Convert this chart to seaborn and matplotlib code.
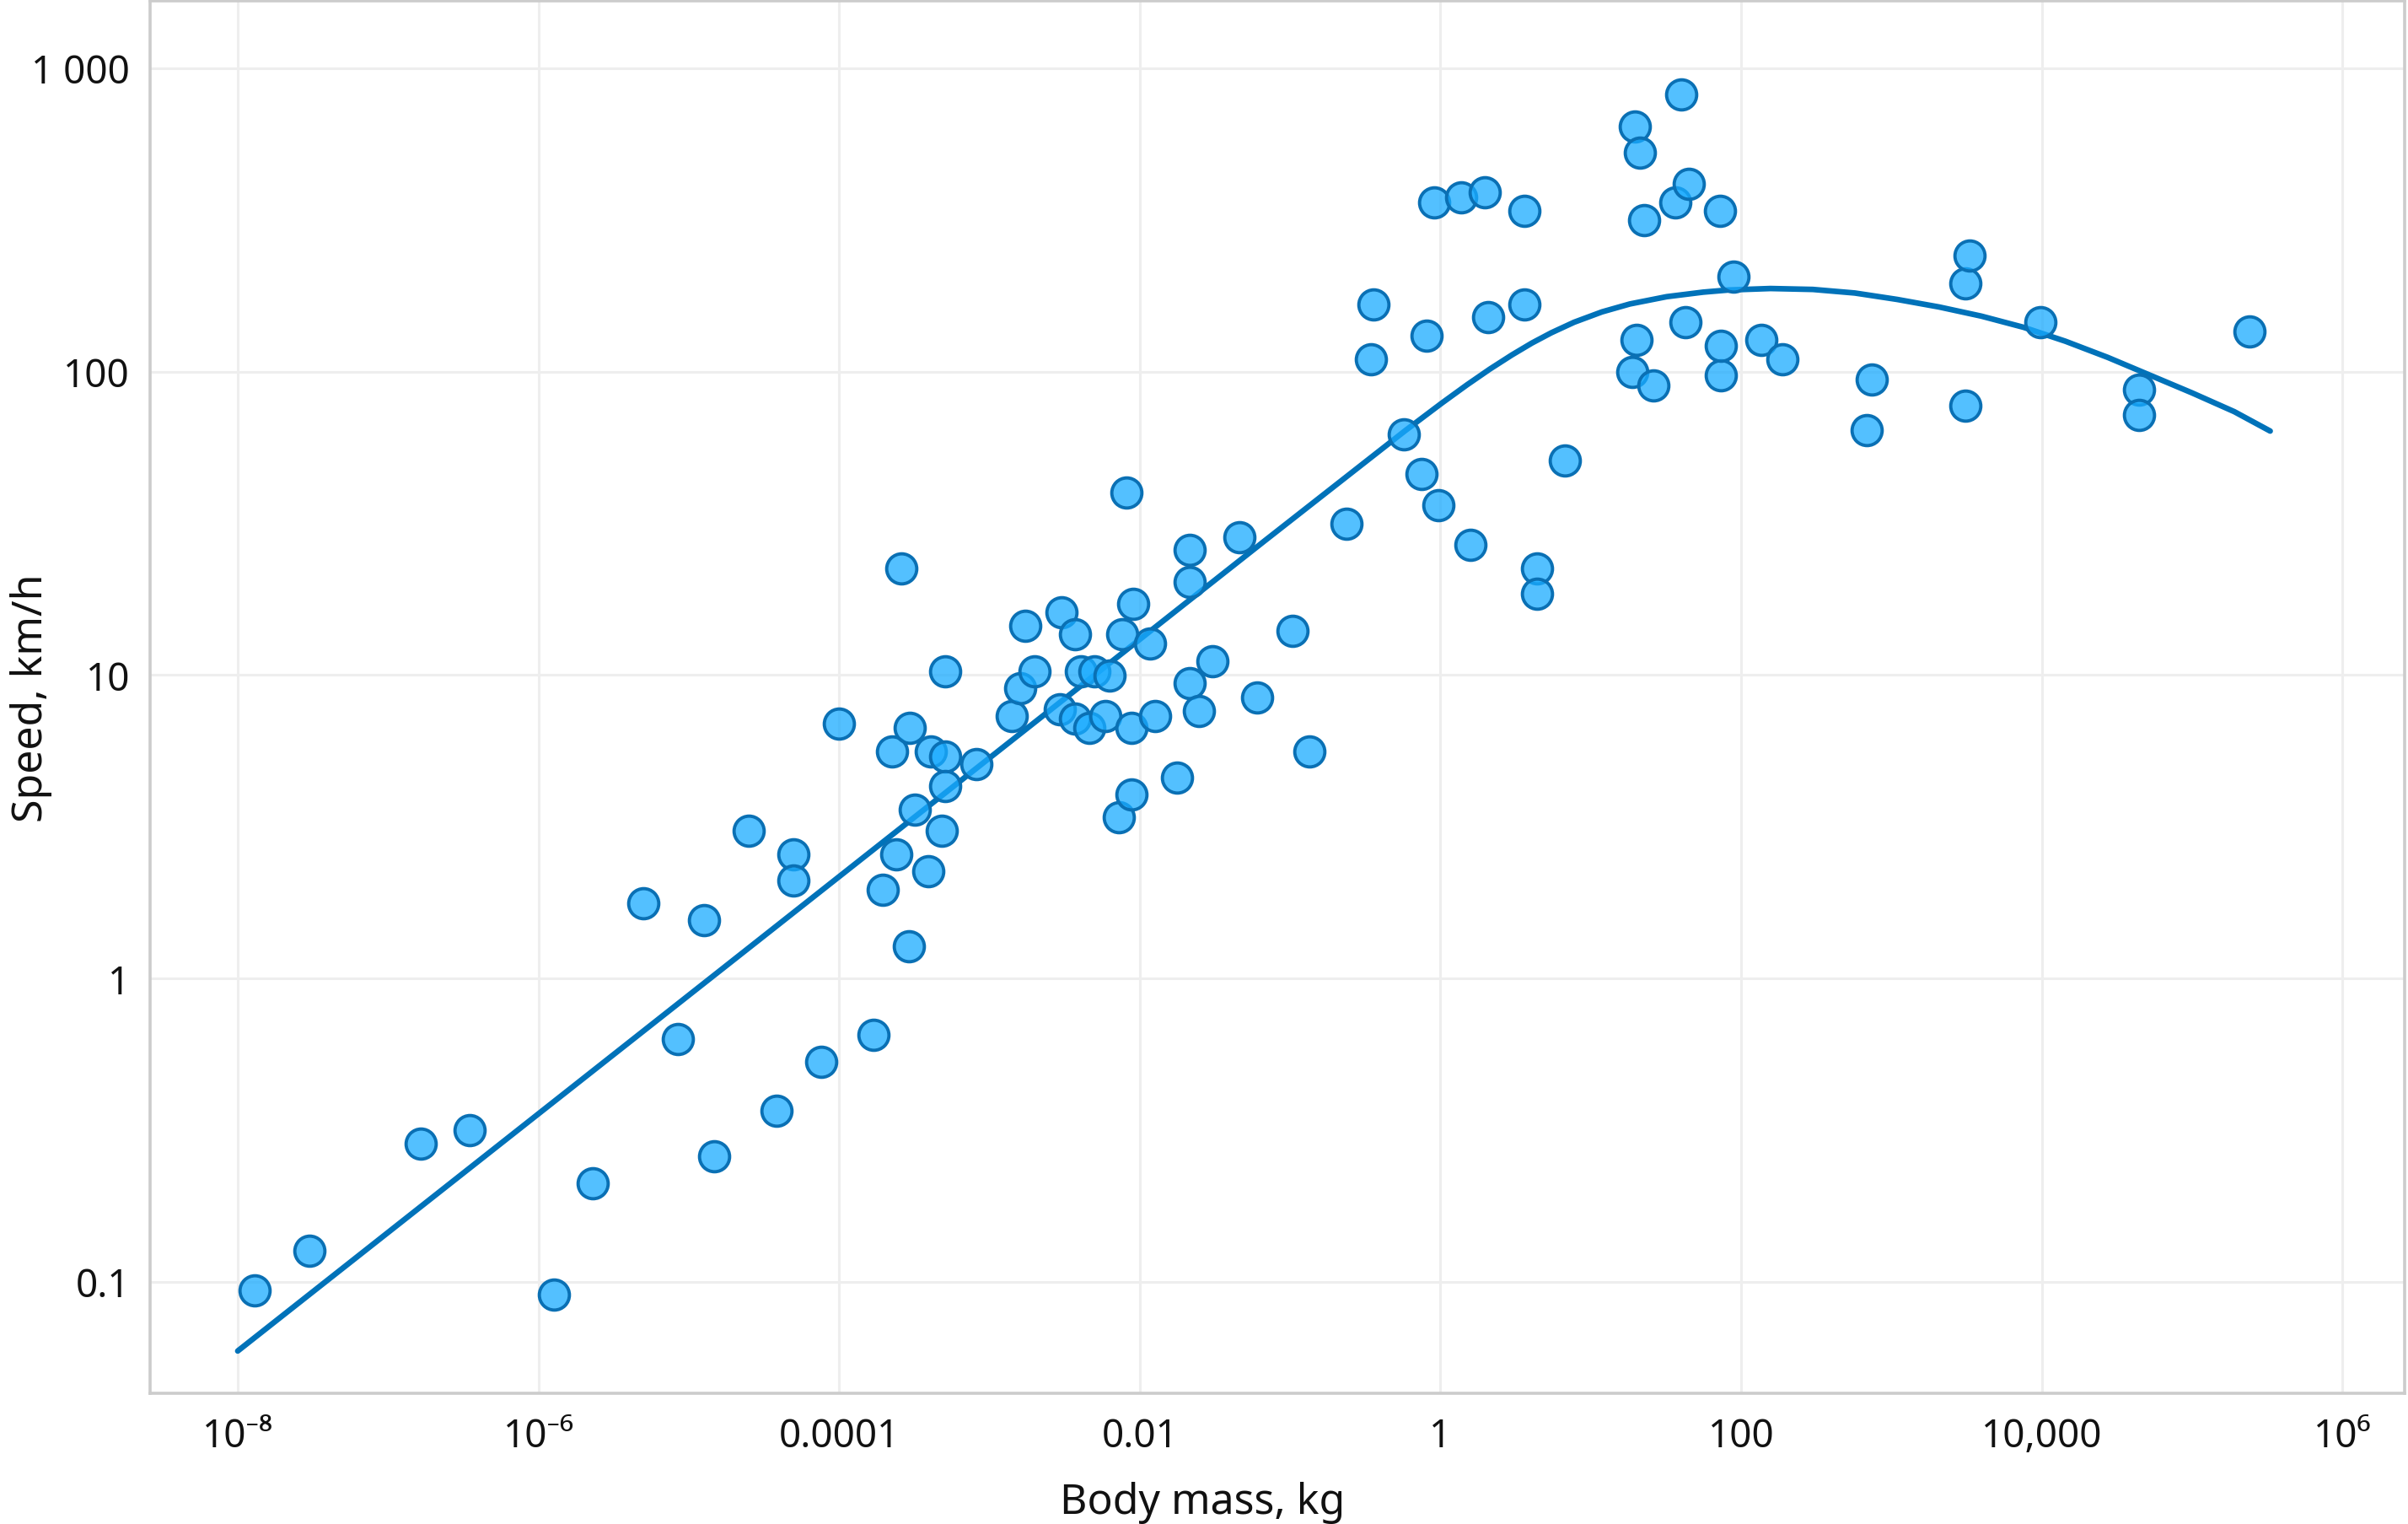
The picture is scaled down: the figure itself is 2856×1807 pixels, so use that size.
import matplotlib
matplotlib.use("Agg")
import matplotlib.pyplot as plt
import seaborn as sns
import pandas as pd
from matplotlib.ticker import FixedLocator, FixedFormatter, NullLocator

# ---- data ----
mass_kg = [1.3e-8, 3.0e-8, 1.65e-7, 3.5e-7, 1.27e-6, 2.3e-6, 5.0e-6, 8.5e-6, 1.27e-5, 1.47e-5,
           2.5e-5, 3.85e-5, 5.0e-5, 5.0e-5, 7.6e-5, 1.0e-4, 1.7e-4, 1.95e-4, 2.24e-4, 2.4e-4,
           2.6e-4, 2.9e-4, 2.95e-4, 3.2e-4, 3.9e-4, 4.1e-4, 4.8e-4, 5.1e-4, 5.1e-4, 5.1e-4,
           8.2e-4, 1.4e-3, 1.6e-3, 1.74e-3, 2.0e-3, 3.0e-3, 2.95e-3, 3.7e-3, 3.7e-3, 4.06e-3,
           4.6e-3, 5.0e-3, 5.9e-3, 6.3e-3, 7.3e-3, 7.6e-3, 8.2e-3, 9.0e-3, 8.8e-3, 8.8e-3,
           1.17e-2, 1.26e-2, 1.78e-2, 2.15e-2, 2.15e-2, 2.15e-2, 2.48e-2, 3.06e-2, 4.6e-2, 6.05e-2,
           0.104, 0.135, 0.237, 0.345, 0.36, 0.57, 0.75, 0.81, 0.905, 0.97,
           1.38, 1.59, 1.97, 2.07, 3.63, 3.63, 4.38, 4.38, 6.7, 18.8,
           19.7, 20.2, 21.2, 22.7, 26.2, 36.4, 40, 42.9, 45, 72,
           73.6, 73.6, 89, 136, 189, 689, 738, 3100, 3330, 3100,
           9820, 44300, 44300, 240000]
speed_kmh = [0.094, 0.127, 0.286, 0.316, 0.091, 0.211, 1.77, 0.63, 1.56, 0.26,
             3.06, 0.366, 2.57, 2.11, 0.53, 6.93, 0.65, 1.96, 5.6, 2.57,
             22.5, 1.28, 6.7, 3.6, 2.26, 5.6, 3.06, 10.3, 5.4, 4.3,
             5.1, 7.35, 9.06, 14.5, 10.3, 16.1, 7.7, 7.2, 13.6, 10.3,
             6.7, 10.3, 7.35, 9.95, 3.4, 13.6, 39.9, 17.2, 6.7, 4.05,
             12.7, 7.35, 4.6, 25.9, 20.3, 9.4, 7.6, 11.1, 28.4, 8.45,
             14.0, 5.6, 31.6, 110, 166, 62, 46, 131, 362, 36.4,
             375, 26.9, 389, 151, 338, 166, 22.5, 18.5, 51, 100,
             641, 127, 526, 315, 90, 362, 820, 146, 417, 338,
             97, 122, 205, 127, 110, 64, 94, 195, 241, 77,
             146, 87, 72, 136]

# fitted curve (mass kg, speed km/h)
curve_mass = [1e-8, 3.16e-5, 0.0678, 0.586, 1.02, 1.50, 2.13, 2.99, 4.06, 5.47,
              7.76, 11.9, 18.2, 32.0, 56.0, 82.4, 157, 300, 571, 1090,
              2080, 3960, 7570, 14400, 27500, 100000, 191000, 331000]
curve_speed = [0.0592, 1.38, 27.7, 64.0, 78.7, 90.4, 101.9, 113.5, 124.2, 134.3,
               145.5, 157.4, 167.1, 176.6, 182.8, 185.8, 187.9, 186.6, 181.6, 173.0,
               163.3, 152.4, 140.0, 125.9, 111.4, 85.1, 73.8, 63.7]

x_ticks = [1e-8, 1e-6, 1e-4, 1e-2, 1, 1e2, 1e4, 1e6]
x_tick_labels = ["10⁻⁸", "10⁻⁶", "0.0001", "0.01", "1", "100", "10,000", "10⁶"]
y_ticks = [0.1, 1, 10, 100, 1000]
y_tick_labels = ["0.1", "1", "10", "100", "1 000"]

x_label = "Body mass, kg"
y_label = "Speed, km/h"

# ---- figure ----
sns.set_theme(style="white")
plt.rcParams["font.family"] = ["Noto Sans", "DejaVu Sans"]

W, H, DPI = 2856, 1808, 200
fig = plt.figure(figsize=(W / DPI, H / DPI), dpi=DPI)
ax = fig.add_axes([178 / W, 1 - 1653 / H, (2852 - 178) / W, (1653 - 2) / H])

pts = pd.DataFrame({"mass": mass_kg, "speed": speed_kmh})
curve = pd.DataFrame({"mass": curve_mass, "speed": curve_speed})

sns.lineplot(data=curve, x="mass", y="speed", ax=ax, color="#0072b9",
             linewidth=2.4, sort=False, estimator=None, zorder=2,
             solid_capstyle="round", solid_joinstyle="round")
sns.scatterplot(data=pts, x="mass", y="speed", ax=ax, s=165,
                color=(26 / 255, 171 / 255, 1.0, 0.75),
                edgecolor="#0a70b4", linewidth=1.4, zorder=3, legend=False)

ax.set_xscale("log")
ax.set_yscale("log")
ax.set_xlim(10 ** -8.583, 10 ** 6.414)
ax.set_ylim(10 ** -1.367, 10 ** 3.222)

ax.xaxis.set_major_locator(FixedLocator(x_ticks))
ax.xaxis.set_major_formatter(FixedFormatter(x_tick_labels))
ax.yaxis.set_major_locator(FixedLocator(y_ticks))
ax.yaxis.set_major_formatter(FixedFormatter(y_tick_labels))
ax.xaxis.set_minor_locator(NullLocator())
ax.yaxis.set_minor_locator(NullLocator())

ax.grid(True, which="major", color="#eeeeee", linewidth=1.1)
ax.set_axisbelow(True)
for sp in ax.spines.values():
    sp.set_visible(True)
    sp.set_color("#cccccc")
    sp.set_linewidth(1.3)

ax.tick_params(axis="both", length=0, labelsize=16.5, labelcolor="#111111")
ax.tick_params(axis="y", pad=8.6)
ax.tick_params(axis="x", pad=10)

ax.set_xlabel(x_label, fontsize=18, color="#111111")
ax.set_ylabel(y_label, fontsize=18, color="#111111")
ax.xaxis.set_label_coords((1426 - 178) / (2852 - 178), -(1757 - 1653) / 1651)
ax.xaxis.label.set_va("top")
ax.yaxis.set_label_coords(-(178 - 62) / (2852 - 178), 0.5)

fig.savefig("out.png", dpi=DPI)
